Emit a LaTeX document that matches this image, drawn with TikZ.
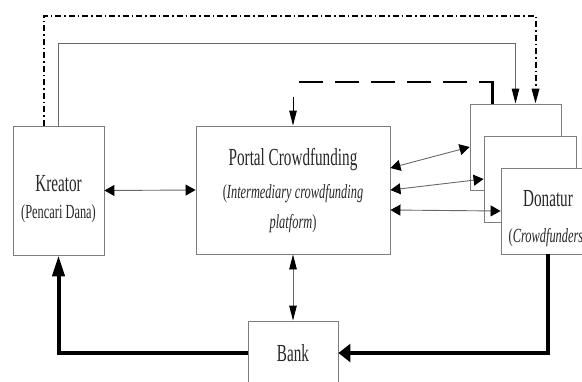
\documentclass[tikz,border=0pt]{standalone}
\usepackage{fontspec}
\setmainfont{Liberation Serif}[FakeStretch=0.62]
\usepackage{tikz}
\usetikzlibrary{arrows.meta, positioning, calc}
\definecolor{boxgray}{RGB}{125,125,125}
\definecolor{linegray}{RGB}{105,105,105}
\definecolor{textgray}{RGB}{40,40,40}
\newcommand{\titlefont}{\fontsize{24.5bp}{30bp}\selectfont}
\newcommand{\subfont}{\fontsize{20bp}{30bp}\selectfont}
\tikzset{
  vtip/.tip={Triangle[length=15bp, width=7.5bp, color=black]},
  htip/.tip={Triangle[length=10bp, width=11bp, color=black]},
  bigvtip/.tip={Triangle[length=21bp, width=12bp, color=black]},
  bightip/.tip={Triangle[length=12bp, width=18bp, color=black]}
}

\begin{document}
\begin{tikzpicture}[x=1bp, y=-1bp,
    actor/.style={draw=boxgray, fill=white, line width=0.9bp, text=textgray,
                  align=center, inner sep=0pt, font=\subfont},
    flowline/.style={draw=linegray, line width=0.9bp},
    moneyline/.style={draw=black, line width=4bp},
    infoline/.style={draw=black, line width=2.6bp,
                     dash pattern=on 24bp off 12bp on 24bp off 12bp on 24bp off 12bp
                                  on 24bp off 12bp on 24bp off 12bp on 40bp off 12bp},
    promoline/.style={draw=black, line width=2bp,
                      dash pattern=on 6bp off 3bp on 1.5bp off 3bp}]

    \path[use as bounding box, clip] (0,0) rectangle (582,381);

    % actors
    \node[actor, minimum width=91bp, minimum height=129bp] (kreator) at (58.5,190.5)
        {{\titlefont\rule{0pt}{34bp}Kreator}\\[-3bp] (Pencari Dana)};
    \node[actor, minimum width=194bp, minimum height=128bp] (portal) at (293,190)
        {{\titlefont Portal Crowdfunding}\\[3bp] (\textit{Intermediary crowdfunding}\\ \textit{platform})};
    \node[actor, minimum width=90bp, minimum height=64bp] (bank) at (293,353)
        {{\titlefont Bank}};

    % donatur stack
    \node[actor, minimum width=91bp, minimum height=86bp] (donA) at (515.5,147) {};
    \node[actor, minimum width=92bp, minimum height=86bp] (donB) at (530,179) {};
    \node[actor, minimum width=94bp, minimum height=86bp] (donC) at (548,211)
        {{\titlefont\rule{0pt}{32bp}Donatur}\\[6bp] (\textit{Crowdfunders})};

    % information flow
    \draw[flowline, htip-htip] (kreator.east) -- (portal.west);
    \draw[flowline, vtip-vtip] (portal.south) -- (bank.north);
    \draw[flowline, htip-htip] ([yshift=22bp]portal.east) -- (donA.west);
    \draw[flowline, htip-htip] (portal.east) -- (donB.west);
    \draw[flowline, htip-htip] ([yshift=-20bp]portal.east) -- (donC.west);

    \draw[flowline, -vtip] (kreator.north) -- ++(0,-82) -| (donA.north);
    \draw[promoline, -vtip] ([xshift=-15bp]kreator.north) -- ++(0,-110) -| ([xshift=20bp]donA.north);

    \coordinate (infoend) at ([xshift=-23bp]donA.north);
    \draw[infoline] (299,82) -| (infoend);
    \coordinate (infostart) at ([yshift=29bp]portal.north);
    \draw[line width=1bp, -vtip] (infostart) -- (portal.north);

    % money flow
    \draw[moneyline, -bightip] (donC.south) |- (bank.east);
    \draw[moneyline, -bigvtip] (bank.west) -| (kreator.south);
\end{tikzpicture}
\end{document}
